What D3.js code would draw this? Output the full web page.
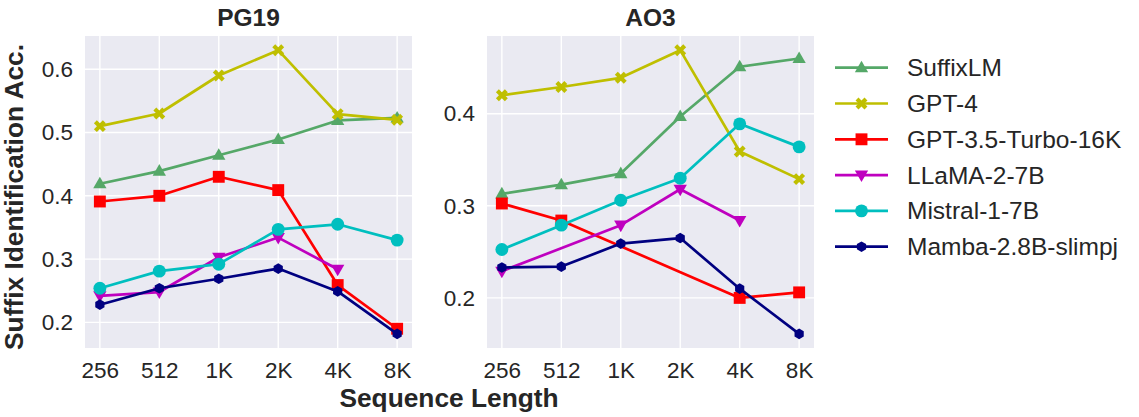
<!DOCTYPE html>
<html>
<head>
<meta charset="utf-8">
<script src="https://cdn.jsdelivr.net/npm/d3@7"></script>
<style>
  body { margin: 0; background: #fff; }
  text { font-family: "Liberation Sans", Arial, sans-serif; fill: #262626; }
</style>
</head>
<body>
<div id="main"></div>
<script>
var lengths = ["256", "512", "1K", "2K", "4K", "8K"];
var models = ["SuffixLM", "GPT-4", "GPT-3.5-Turbo-16K", "LLaMA-2-7B", "Mistral-1-7B", "Mamba-2.8B-slimpj"];
var colors = ["#55a868", "#bfbf00", "#ff0000", "#bf00bf", "#00bfbf", "#000080"];
var markers = ["triangleUp", "x", "square", "triangleDown", "circle", "hexagon"];

// PG19
var pg19SuffixLM = [0.419, 0.439, 0.464, 0.489, 0.519, 0.523];
var pg19Gpt4 = [0.510, 0.530, 0.590, 0.630, 0.529, 0.520];
var pg19Gpt35 = [0.391, 0.400, 0.430, 0.409, 0.259, 0.190];
var pg19Llama = [0.242, 0.248, 0.303, 0.334, 0.284, null];
var pg19Mistral = [0.254, 0.281, 0.292, 0.347, 0.355, 0.330];
var pg19Mamba = [0.228, 0.254, 0.269, 0.285, 0.249, 0.182];

// AO3
var ao3SuffixLM = [0.313, 0.323, 0.335, 0.397, 0.451, 0.460];
var ao3Gpt4 = [0.420, 0.429, 0.439, 0.469, 0.359, 0.329];
var ao3Gpt35 = [0.3025, 0.284, null, null, 0.200, 0.206];
var ao3Llama = [0.229, null, 0.279, 0.318, 0.284, null];
var ao3Mistral = [0.2525, 0.279, 0.306, 0.330, 0.389, 0.364];
var ao3Mamba = [0.233, 0.234, 0.259, 0.265, 0.210, 0.161];

var pg19Ticks = [0.2, 0.3, 0.4, 0.5, 0.6];
var ao3Ticks = [0.2, 0.3, 0.4];

var width = 1139, height = 417;
var plotTop = 36, plotBottom = 348, plotW = 327;

var svg = d3.select("#main").append("svg")
    .attr("width", width)
    .attr("height", height);

function markerPath(type, s) {
    if (type == "triangleUp") return "M0," + (-s) + "L" + (s * 0.95) + "," + (s * 0.65) + "L" + (-s * 0.95) + "," + (s * 0.65) + "Z";
    if (type == "triangleDown") return "M0," + s + "L" + (s * 0.95) + "," + (-s * 0.65) + "L" + (-s * 0.95) + "," + (-s * 0.65) + "Z";
    if (type == "square") return "M" + (-s * 0.85) + "," + (-s * 0.85) + "h" + (s * 1.7) + "v" + (s * 1.7) + "h" + (-s * 1.7) + "Z";
    if (type == "circle") return d3.symbol(d3.symbolCircle, Math.PI * s * s * 0.85)();
    if (type == "hexagon") {
        var r = s * 0.76, pts = [];
        for (var i = 0; i < 6; i++) {
            var a = -Math.PI / 2 + i * Math.PI / 3;
            pts.push([r * Math.cos(a), r * Math.sin(a)]);
        }
        return "M" + pts.join("L") + "Z";
    }
    if (type == "x") {
        var a = s * 0.85, w = s * 0.42;
        var p = [[-a + w, -a], [0, -w], [a - w, -a], [a, -a + w], [w, 0], [a, a - w], [a - w, a], [0, w], [-a + w, a], [-a, a - w], [-w, 0], [-a, -a + w]];
        return "M" + p.join("L") + "Z";
    }
}

function drawPanel(left, title, series, ticks) {
    var all = [].concat.apply([], series).filter(v => v != null);
    var ext = d3.extent(all);
    var pad = (ext[1] - ext[0]) * 0.05;

    var xScale = d3.scaleLinear().domain([-0.25, lengths.length - 0.75]).range([left, left + plotW]);
    var yScale = d3.scaleLinear().domain([ext[0] - pad, ext[1] + pad]).range([plotBottom, plotTop]);

    var g = svg.append("g");

    g.append("rect")
        .attr("x", left).attr("y", plotTop)
        .attr("width", plotW).attr("height", plotBottom - plotTop)
        .attr("fill", "#eaeaf2");

    g.selectAll(".vgrid").data(lengths).enter().append("line")
        .attr("x1", (d, i) => xScale(i)).attr("x2", (d, i) => xScale(i))
        .attr("y1", plotTop).attr("y2", plotBottom)
        .attr("stroke", "#fff").attr("stroke-width", 1.4);

    g.selectAll(".hgrid").data(ticks).enter().append("line")
        .attr("x1", left).attr("x2", left + plotW)
        .attr("y1", d => yScale(d)).attr("y2", d => yScale(d))
        .attr("stroke", "#fff").attr("stroke-width", 1.4);

    var xAxis = d3.axisBottom(xScale).tickValues(d3.range(lengths.length))
        .tickFormat(i => lengths[i]).tickSize(0).tickPadding(10);
    var xAxisG = g.append("g").attr("transform", "translate(0," + plotBottom + ")").call(xAxis);
    xAxisG.select(".domain").remove();
    xAxisG.selectAll("text").style("font-size", "22.5px").attr("fill", "#262626").attr("dy", "0.9em");

    var yAxis = d3.axisLeft(yScale).tickValues(ticks).tickFormat(d3.format(".1f")).tickSize(0).tickPadding(12);
    var yAxisG = g.append("g").attr("transform", "translate(" + left + ",0)").call(yAxis);
    yAxisG.select(".domain").remove();
    yAxisG.selectAll("text").style("font-size", "22.5px").attr("fill", "#262626");

    g.append("text")
        .attr("x", left + plotW / 2).attr("y", 26)
        .attr("text-anchor", "middle")
        .style("font-size", "24.5px").style("font-weight", "bold")
        .text(title);

    series.forEach(function (vals, k) {
        var pts = vals.map((v, i) => [i, v]).filter(p => p[1] != null);
        var line = d3.line().x(p => xScale(p[0])).y(p => yScale(p[1]));
        g.append("path")
            .attr("d", line(pts))
            .attr("fill", "none")
            .attr("stroke", colors[k])
            .attr("stroke-width", 2.7)
            .attr("stroke-linejoin", "round");
        g.selectAll(".m" + k).data(pts).enter().append("path")
            .attr("transform", p => "translate(" + xScale(p[0]) + "," + yScale(p[1]) + ")")
            .attr("d", markerPath(markers[k], 7))
            .attr("fill", colors[k]);
    });
}

drawPanel(85, "PG19", [pg19SuffixLM, pg19Gpt4, pg19Gpt35, pg19Llama, pg19Mistral, pg19Mamba], pg19Ticks);
drawPanel(487, "AO3", [ao3SuffixLM, ao3Gpt4, ao3Gpt35, ao3Llama, ao3Mistral, ao3Mamba], ao3Ticks);

// axis labels
svg.append("text")
    .attr("x", 449).attr("y", 407)
    .attr("text-anchor", "middle")
    .style("font-size", "26.3px").style("font-weight", "bold")
    .text("Sequence Length");

svg.append("text")
    .attr("transform", "translate(23,197) rotate(-90)")
    .attr("text-anchor", "middle")
    .style("font-size", "26.3px").style("font-weight", "bold")
    .text("Suffix Identification Acc.");

// legend
var legend = svg.append("g");
var legendY = d3.scaleLinear().domain([0, 1]).range([67.7, 103.5]);
models.forEach(function (name, k) {
    var y = legendY(k);
    legend.append("line")
        .attr("x1", 835).attr("x2", 888).attr("y1", y).attr("y2", y)
        .attr("stroke", colors[k]).attr("stroke-width", 2.7);
    legend.append("path")
        .attr("transform", "translate(861.5," + y + ")")
        .attr("d", markerPath(markers[k], 7))
        .attr("fill", colors[k]);
    legend.append("text")
        .attr("x", 907).attr("y", y).attr("dy", "0.35em")
        .style("font-size", "24.5px")
        .text(name);
});
</script>
</body>
</html>
